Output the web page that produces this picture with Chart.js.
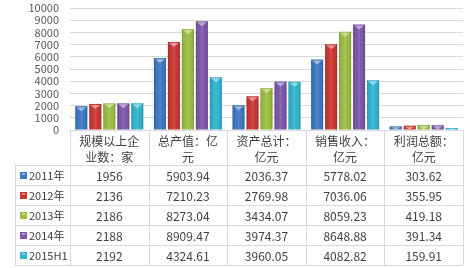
<!DOCTYPE html>
<html><head><meta charset="utf-8">
<script src="https://cdn.jsdelivr.net/npm/chart.js@4"></script>
<style>html,body{margin:0;padding:0;background:#fff}#wrap{width:470px;height:268px;position:relative}</style>
</head><body><div id="wrap"><canvas id="c" width="470" height="268"></canvas></div>
<script>
const categories = [['规模以上企','业数：家'], ['总产值：亿','元'], ['资产总计：','亿元'], ['销售收入：','亿元'], ['利润总额：','亿元']];
const seriesNames = ['2011年', '2012年', '2013年', '2014年', '2015H1'];
const v2011 = [1956, 5903.94, 2036.37, 5778.02, 303.62];
const v2012 = [2136, 7210.23, 2769.98, 7036.06, 355.95];
const v2013 = [2186, 8273.04, 3434.07, 8059.23, 419.18];
const v2014 = [2188, 8909.47, 3974.37, 8648.88, 391.34];
const v2015 = [2192, 4324.61, 3960.05, 4082.82, 159.91];
const seriesValues = [v2011, v2012, v2013, v2014, v2015];
const yMin = 0, yMax = 10000, yStep = 1000;
const colors = ['#3d79c4', '#cd3632', '#9cbf42', '#7d57ab', '#30b5cf'];

const FONT = '"Noto Sans CJK SC", "Noto Sans", sans-serif';
const lineColor = '#d9d9d9';
const textColor = '#404040';

const bevelPlugin = {
  id: 'bevel',
  afterDatasetsDraw(chart) {
    const ctx = chart.ctx;
    ctx.save();
    chart.data.datasets.forEach((ds, di) => {
      const meta = chart.getDatasetMeta(di);
      meta.data.forEach(el => {
        const l = el.x - el.width / 2, r = el.x + el.width / 2;
        const t = Math.min(el.y, el.base), b = Math.max(el.y, el.base);
        const g = ctx.createLinearGradient(l, 0, r, 0);
        g.addColorStop(0, 'rgba(0,0,0,0.22)');
        g.addColorStop(0.15, 'rgba(0,0,0,0.03)');
        g.addColorStop(0.5, 'rgba(255,255,255,0.1)');
        g.addColorStop(0.85, 'rgba(0,0,0,0.03)');
        g.addColorStop(1, 'rgba(0,0,0,0.22)');
        ctx.fillStyle = g;
        ctx.fillRect(l, t, r - l, b - t);
        const h = Math.min(5, (b - t));
        ctx.fillStyle = 'rgba(255,255,255,0.45)';
        ctx.beginPath();
        ctx.moveTo(l + 1, t + 1);
        ctx.lineTo(r - 1, t + 1);
        ctx.lineTo(el.x, t + h);
        ctx.closePath();
        ctx.fill();
      });
    });
    ctx.restore();
  }
};

const tablePlugin = {
  id: 'table',
  afterDraw(chart) {
    const ctx = chart.ctx;
    const area = chart.chartArea;
    const xs = chart.scales.x;
    const n = categories.length;
    const cw = (area.right - area.left) / n;
    const headTop = area.bottom;
    const headBottom = headTop + 35;
    const rowH = 20;
    const tableBottom = headBottom + rowH * seriesNames.length;
    const legLeft = 15;
    ctx.save();
    ctx.strokeStyle = lineColor;
    ctx.lineWidth = 1;
    ctx.beginPath();
    for (let i = 0; i <= n; i++) {
      const x = Math.round(area.left + i * cw) + 0.5;
      ctx.moveTo(x, headTop);
      ctx.lineTo(x, tableBottom);
    }
    ctx.moveTo(legLeft + 0.5, headBottom);
    ctx.lineTo(legLeft + 0.5, tableBottom);
    for (let r = 0; r <= seriesNames.length; r++) {
      const y = headBottom + r * rowH + 0.5;
      ctx.moveTo(legLeft, y);
      ctx.lineTo(area.right, y);
    }
    ctx.stroke();

    ctx.textBaseline = 'middle';
    ctx.textAlign = 'center';
    ctx.fillStyle = textColor;
    ctx.font = '12px ' + FONT;
    categories.forEach((lines, c) => {
      const cx = xs.getPixelForValue(c);
      lines.forEach((t, k) => ctx.fillText(t, cx, headTop + 11 + k * 16.5));
    });

    seriesNames.forEach((name, r) => {
      const yc = headBottom + r * rowH + rowH / 2;
      const kx = 20, ky = Math.round(yc - 3.5);
      ctx.fillStyle = colors[r];
      ctx.fillRect(kx, ky, 7, 7);
      ctx.fillStyle = 'rgba(255,255,255,0.4)';
      ctx.fillRect(kx + 2, ky + 1, 3, 2);
      ctx.fillStyle = textColor;
      ctx.textAlign = 'left';
      ctx.font = '11px ' + FONT;
      ctx.fillText(name, 29, yc + 1);
      ctx.textAlign = 'center';
      ctx.font = '12px ' + FONT;
      seriesValues[r].forEach((v, c) => {
        ctx.fillText(String(v), xs.getPixelForValue(c), yc + 1);
      });
    });
    ctx.restore();
  }
};

new Chart(document.getElementById('c'), {
  type: 'bar',
  data: {
    labels: categories,
    datasets: seriesNames.map((name, i) => ({
      label: name,
      data: seriesValues[i],
      backgroundColor: colors[i],
      borderWidth: 0,
      categoryPercentage: 0.89,
      barPercentage: 0.86
    }))
  },
  options: {
    responsive: false,
    animation: false,
    devicePixelRatio: 1,
    layout: { padding: { top: 8, right: 7, left: 0, bottom: 0 } },
    plugins: { legend: { display: false }, tooltip: { enabled: false } },
    scales: {
      y: {
        min: yMin, max: yMax,
        ticks: { stepSize: yStep, autoSkip: false, callback: v => String(v), color: '#595959', font: { family: FONT, size: 11 }, padding: 11 },
        grid: { color: lineColor, drawTicks: false },
        border: { display: false },
        afterFit(s) { s.width = 70; s.paddingTop = 0; s.paddingBottom = 0; }
      },
      x: {
        grid: { display: false },
        border: { display: true, color: lineColor },
        ticks: { display: false },
        afterFit(s) { s.height = 138; s.paddingLeft = 0; s.paddingRight = 0; }
      }
    }
  },
  plugins: [bevelPlugin, tablePlugin]
});
</script>
</body></html>
